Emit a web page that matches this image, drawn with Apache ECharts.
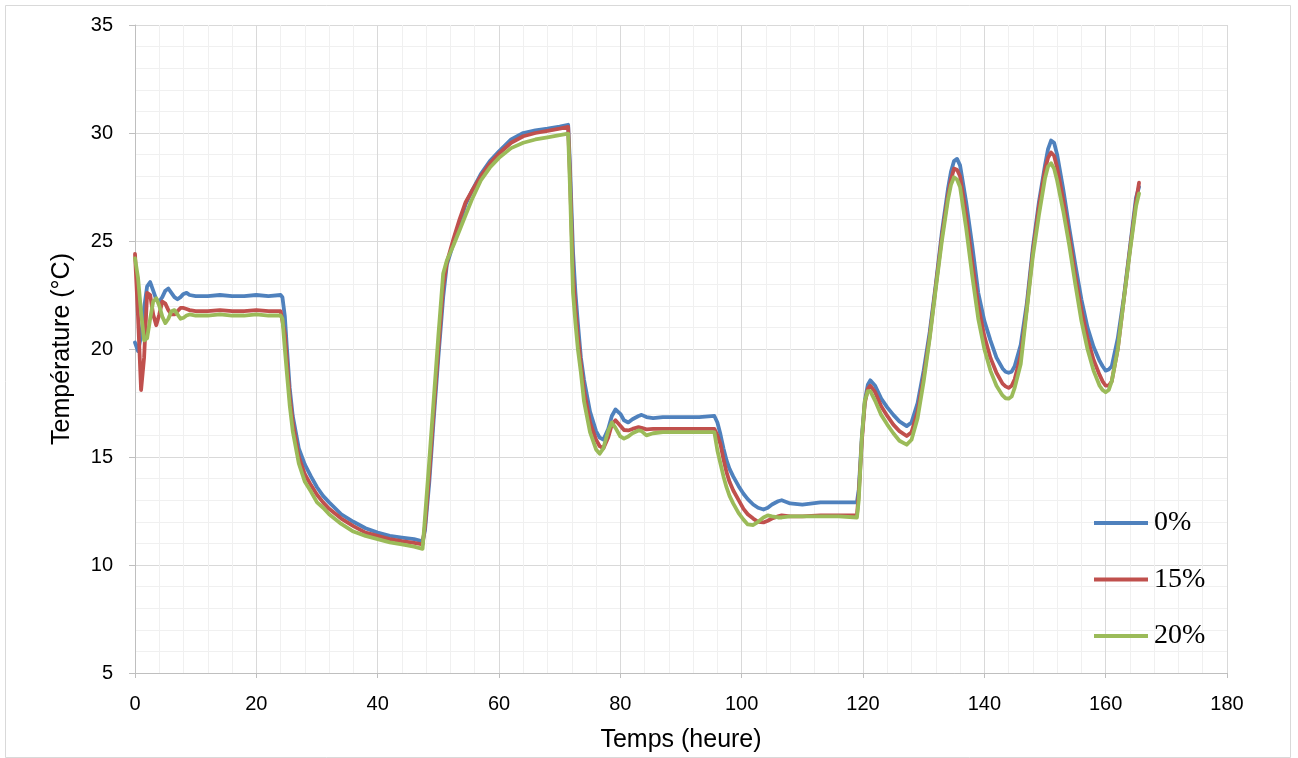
<!DOCTYPE html>
<html>
<head>
<meta charset="utf-8">
<script src="https://cdn.jsdelivr.net/npm/echarts@6/dist/echarts.min.js"></script>
<style>
html,body{margin:0;padding:0;background:#fff;}
#chart{width:1298px;height:758px;}
</style>
</head>
<body>
<div id="chart"></div>
<script>
// Time (hours)
const times = [
  0,0.5,1,1.5,2,2.5,3,3.5,4,4.5,5,5.5,6,6.5,7,7.5,8,8.5,9,10,12,14,16,18,20,22,24,
  24.3,24.7,25,25.5,26,27,28,29,30,31,32,34,36,38,40,42,44,46,47.4,
  47.8,48.5,49.2,50,50.8,51.4,52.5,53.5,54.5,55.5,57,58.5,60,62,64,66,68,70,71.4,
  71.7,72.2,72.6,73,73.5,74,75,76,76.6,77.2,78,78.6,79.2,80,80.6,81.3,82,83,83.5,84.3,85.4,87,90,93,95.5,
  96,96.5,97,97.5,98,98.6,99.5,100.3,101,101.9,102.7,103.6,104.3,105,106,106.6,108,110,113,116,119,
  119.3,119.8,120.3,120.8,121.2,122,123,124,125,126,127.2,
  128,129,130,131,132,133,134,134.5,135,135.5,136,137,
  138,139,140,141,142,143,143.5,144,144.5,145,146,147,
  148,149,150,150.5,151,151.5,152,153,154,155,156,157,
  158,159,159.5,160,160.5,161,162,163,164,165,165.5
];
// 0 %
const s0 = [
  20.3,19.9,20.6,21.9,22.9,23.1,22.7,22.3,22.2,22.4,22.7,22.8,22.6,22.4,22.3,22.4,22.55,22.6,22.5,22.45,22.45,22.5,22.45,22.45,22.5,22.45,22.5,
  22.4,21.5,20.2,18.2,16.9,15.4,14.65,14.1,13.6,13.2,12.9,12.35,12.0,11.7,11.5,11.35,11.27,11.2,11.1,
  11.6,13.8,16.6,19.6,22.4,23.9,24.9,25.8,26.7,27.3,28.1,28.7,29.15,29.7,30.0,30.12,30.2,30.3,30.38,
  28.5,24.5,22.6,21.2,19.6,18.6,17.1,16.2,15.9,15.8,16.3,16.9,17.2,17.0,16.7,16.6,16.75,16.9,16.95,16.85,16.8,16.85,16.85,16.85,16.9,
  16.6,16.05,15.4,14.85,14.45,14.1,13.65,13.3,13.05,12.8,12.65,12.57,12.65,12.8,12.95,13.0,12.85,12.8,12.9,12.9,12.9,
  13.5,15.9,17.6,18.35,18.55,18.3,17.7,17.3,16.95,16.65,16.43,
  16.6,17.5,19.0,20.8,23.0,25.4,27.4,28.2,28.7,28.8,28.5,26.8,
  24.8,22.6,21.3,20.4,19.6,19.1,18.95,18.9,18.95,19.2,20.2,22.1,
  24.7,26.8,28.5,29.25,29.65,29.55,29.0,27.4,25.6,23.9,22.3,21.0,
  20.1,19.45,19.2,19.0,19.05,19.2,20.5,22.4,24.7,27.0,27.5
];
// 15 %
const s15 = [
  24.4,21.5,18.1,19.6,22.6,22.5,21.6,21.1,21.6,22.2,22.1,21.8,21.6,21.6,21.75,21.9,21.9,21.85,21.8,21.75,21.75,21.8,21.75,21.75,21.8,21.75,21.75,
  21.7,20.7,19.6,17.8,16.6,15.0,14.2,13.7,13.25,12.9,12.6,12.15,11.8,11.5,11.35,11.2,11.1,11.02,10.95,
  11.8,14.2,17.0,20.0,22.9,24.0,25.1,26.0,26.8,27.3,28.0,28.6,29.05,29.55,29.85,30.0,30.1,30.2,30.28,
  28.0,23.5,21.9,20.6,19.3,18.1,16.6,15.8,15.5,15.4,15.9,16.5,16.7,16.45,16.25,16.23,16.3,16.38,16.35,16.28,16.3,16.3,16.3,16.3,16.3,
  16.0,15.6,14.9,14.3,13.85,13.46,13.0,12.6,12.35,12.15,12.0,11.97,12.05,12.15,12.25,12.3,12.25,12.25,12.3,12.3,12.3,
  13.3,15.7,17.5,18.15,18.3,18.0,17.35,16.9,16.5,16.2,15.97,
  16.15,17.1,18.7,20.6,22.9,25.2,27.1,27.85,28.35,28.3,28.0,26.2,
  24.0,22.0,20.6,19.6,18.9,18.4,18.27,18.2,18.3,18.6,19.7,21.9,
  24.5,26.6,28.3,28.85,29.1,28.95,28.4,26.9,25.2,23.4,21.8,20.5,
  19.5,18.8,18.5,18.3,18.3,18.5,20.0,22.3,24.6,26.8,27.7
];
// 20 %
const s20 = [
  24.2,23.3,21.7,20.4,20.5,21.4,22.2,22.35,22.0,21.5,21.2,21.4,21.75,21.8,21.6,21.4,21.45,21.55,21.6,21.55,21.55,21.6,21.55,21.55,21.6,21.55,21.55,
  21.4,20.0,19.0,17.4,16.2,14.7,13.85,13.4,12.9,12.65,12.35,11.9,11.55,11.35,11.2,11.05,10.95,10.85,10.75,
  12.2,14.8,17.5,20.6,23.5,24.1,24.8,25.5,26.2,26.9,27.8,28.4,28.85,29.3,29.55,29.7,29.8,29.9,29.97,
  27.5,22.6,21.2,20.0,18.9,17.6,16.15,15.35,15.15,15.4,16.2,16.6,16.35,15.95,15.85,15.95,16.1,16.23,16.2,16.0,16.1,16.15,16.15,16.15,16.15,
  15.3,14.7,14.1,13.6,13.2,12.85,12.4,12.1,11.88,11.85,12.0,12.2,12.3,12.25,12.2,12.2,12.25,12.25,12.25,12.25,12.2,
  13.0,15.85,17.6,18.05,18.05,17.6,16.95,16.5,16.1,15.75,15.57,
  15.8,16.8,18.5,20.5,22.8,25.0,26.9,27.6,27.95,27.85,27.5,25.6,
  23.4,21.4,20.0,19.0,18.3,17.85,17.72,17.7,17.8,18.2,19.3,21.8,
  24.3,26.2,27.9,28.45,28.6,28.35,27.8,26.4,24.8,23.0,21.3,20.0,
  19.0,18.3,18.1,18.0,18.1,18.5,20.0,22.3,24.5,26.6,27.2
];
const seriesNames = ['0%', '15%', '20%'];
const seriesColors = ['#4F81BD', '#C0504D', '#9BBB59'];
const xTitle = 'Temps (heure)';
const yTitle = 'Température (°C)';

const allValues = [s0, s15, s20];
const chart = echarts.init(document.getElementById('chart'));
const option = {
  animation: false,
  backgroundColor: '#ffffff',
  graphic: [{
    type: 'rect', shape: {x: 5.5, y: 5.5, width: 1285, height: 752},
    style: {fill: 'none', stroke: '#d9d9d9', lineWidth: 1}, silent: true, z: -1
  }],
  grid: {left: 135, right: 71, top: 25, bottom: 83, containLabel: false},
  legend: {
    orient: 'vertical', left: 1094, top: 508, padding: 0,
    itemWidth: 54, itemHeight: 4, itemGap: 26.5,
    icon: 'rect',
    data: seriesNames,
    textStyle: {fontFamily: 'Liberation Serif', fontSize: 28, color: '#000', lineHeight: 30, padding: [0,0,0,1]}
  },
  xAxis: {
    type: 'value', min: 0, max: 180, interval: 20,
    name: xTitle, nameLocation: 'middle', nameGap: 55,
    nameTextStyle: {fontFamily: 'Liberation Sans', fontSize: 25, color: '#000'},
    axisLine: {show: true, onZero: false, lineStyle: {color: '#bfbfbf', width: 1}},
    axisTick: {show: true, length: 5, lineStyle: {color: '#bfbfbf'}},
    axisLabel: {fontFamily: 'Liberation Sans', fontSize: 20, color: '#000', margin: 21},
    splitLine: {show: true, lineStyle: {color: '#d9d9d9', width: 1}},
    minorTick: {show: false, splitNumber: 5},
    minorSplitLine: {show: true, lineStyle: {color: '#f0f0f0', width: 1}}
  },
  yAxis: {
    type: 'value', min: 5, max: 35, interval: 5,
    name: yTitle, nameLocation: 'middle', nameGap: 60,
    nameTextStyle: {fontFamily: 'Liberation Sans', fontSize: 25, color: '#000'},
    axisLine: {show: true, onZero: false, lineStyle: {color: '#bfbfbf', width: 1}},
    axisTick: {show: true, length: 6, lineStyle: {color: '#bfbfbf'}},
    axisLabel: {fontFamily: 'Liberation Sans', fontSize: 20, color: '#000', margin: 22},
    splitLine: {show: true, lineStyle: {color: '#d9d9d9', width: 1}},
    minorTick: {show: false, splitNumber: 5},
    minorSplitLine: {show: true, lineStyle: {color: '#f0f0f0', width: 1}}
  },
  series: seriesNames.map((name, k) => ({
    name: name,
    type: 'line',
    showSymbol: false,
    symbol: 'none',
    smooth: false,
    color: seriesColors[k],
    lineStyle: {color: seriesColors[k], width: 3.8, join: 'round', cap: 'round'},
    data: times.map((t, i) => [t, allValues[k][i]])
  }))
};
chart.setOption(option);
</script>
</body>
</html>
